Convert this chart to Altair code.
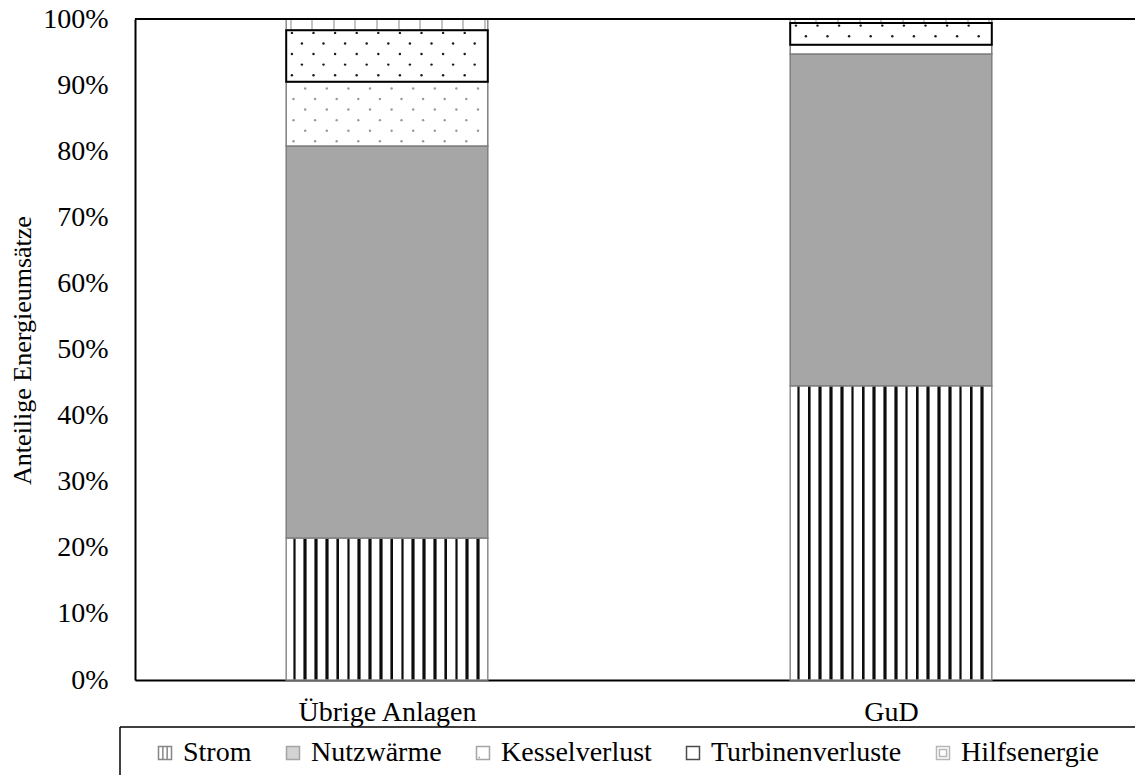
import altair as alt
import numpy as np
import pandas as pd

# Energy shares (%) per plant type, stacked bottom to top
anlagen = ["Übrige Anlagen", "GuD"]
kategorien = ["Strom", "Nutzwärme", "Kesselverlust", "Turbinenverluste", "Hilfsenergie"]
strom = [21.5, 44.5]
nutzwaerme = [59.3, 50.2]
kesselverlust = [9.7, 1.4]
turbinenverluste = [7.8, 3.3]
hilfsenergie = [1.7, 0.6]

FONT = "Liberation Serif"
STEP_PX = 504.0          # pixel width of one category slot
BAR_HALF = 0.2           # half bar width in slot units
BAR_PX = 2 * BAR_HALF * STEP_PX

serien = [strom, nutzwaerme, kesselverlust, turbinenverluste, hilfsenergie]
rows = []
for i, anlage in enumerate(anlagen):
    lo = 0.0
    for kat, werte in zip(kategorien, serien):
        hi = lo + werte[i]
        rows.append({"Anlage": anlage, "pos": i, "Kategorie": kat,
                     "x0": i - BAR_HALF, "x1": i + BAR_HALF, "lo": lo, "hi": hi})
        lo = hi
seg = pd.DataFrame(rows)


def stripe_fill(first, period, core, halo, dark, halo_col, light="#ffffff"):
    """Vertical hatch as a hard-stop linear gradient across the bar width."""
    stops = [alt.GradientStop(offset=0, color=light)]
    c = first
    while c < BAR_PX - 1:
        a = (c - core / 2 - halo) / BAR_PX
        b = (c - core / 2) / BAR_PX
        e = (c + core / 2) / BAR_PX
        d = (c + core / 2 + halo) / BAR_PX
        a, b, e, d = [min(max(v, 0), 1) for v in (a, b, e, d)]
        stops += [alt.GradientStop(offset=a, color=light),
                  alt.GradientStop(offset=a, color=halo_col),
                  alt.GradientStop(offset=b, color=halo_col),
                  alt.GradientStop(offset=b, color=dark),
                  alt.GradientStop(offset=e, color=dark),
                  alt.GradientStop(offset=e, color=halo_col),
                  alt.GradientStop(offset=d, color=halo_col),
                  alt.GradientStop(offset=d, color=light)]
        c += period
    stops.append(alt.GradientStop(offset=1, color=light))
    return alt.LinearGradient(gradient="linear", stops=stops, x1=0, x2=1, y1=0, y2=0)


def dot_grid(kat, top_inset, color, offs_a, offs_b):
    """Staggered dot texture inside the given segment type."""
    out = []
    for _, r in seg[seg["Kategorie"] == kat].iterrows():
        if r["hi"] - r["lo"] < 2:
            continue
        y = r["hi"] - top_inset
        k = 0
        while y >= r["lo"] + 0.5:
            start = offs_a if k % 2 == 0 else offs_b
            px = start
            while px < BAR_PX - 2:
                out.append({"xd": r["x0"] + px / STEP_PX, "yd": y, "c": color})
                px += 21.6
            y -= 1.6
            k += 1
    return out


xscale = alt.Scale(domain=[-0.5, 1.5], range=[0, 2 * STEP_PX], nice=False, zero=False)
yscale = alt.Scale(domain=[0, 100], nice=False)

xaxis = alt.Axis(values=[0, 1], title=None, ticks=False, grid=False,
                 labelExpr=f"datum.value == 0 ? '{anlagen[0]}' : '{anlagen[1]}'",
                 labelFont=FONT, labelFontSize=28, labelColor="black",
                 labelBaseline="alphabetic", labelPadding=40,
                 domainColor="black", domainWidth=2, labelFlush=False, labelOverlap=False)
yaxis = alt.Axis(values=list(range(0, 101, 10)), title="Anteilige Energieumsätze",
                 ticks=False, tickSize=0, grid=False, labelExpr="datum.value + '%'",
                 labelFont=FONT, labelFontSize=28, labelColor="black", labelPadding=27,
                 domainColor="black", domainWidth=2,
                 titleFont=FONT, titleFontSize=26, titleFontWeight="normal", titleColor="black",
                 titleX=-113, titleY=331, titleAngle=-90, titleBaseline="middle", titleAlign="center",
                 labelFlush=False)

base = alt.Chart(seg)

# legend carrier, hidden beneath the Strom bar
shape_paths = [
    "M-1,-1H1V1H-1Z M-0.33,-1V1 M0.33,-1V1",
    "M-1,-1H1V1H-1Z",
    "M-1,-1H1V1H-1Z M-0.7,0.7H-0.45",
    "M-1,-1H1V1H-1Z",
    "M-1,-1H1V1H-1Z M-0.55,-0.55H0.55V0.55H-0.55Z",
]
fill_cols = ["#ffffff", "#a6a6a6", "#ffffff", "#ffffff", "#ffffff"]
stroke_cols = ["#555555", "#7f7f7f", "#7f7f7f", "#000000", "#9a9a9a"]
legend = alt.Legend(title=None, orient="none", direction="horizontal", columns=5,
                    legendX=16, legendY=720, padding=0, columnPadding=27,
                    labelFont=FONT, labelFontSize=28, labelColor="black", labelOffset=4,
                    symbolSize=169, symbolStrokeWidth=1.5, labelLimit=400)
carrier_df = pd.DataFrame({"Kategorie": kategorien, "pos": [0] * 5, "yc": [8] * 5})
carrier = alt.Chart(carrier_df).mark_point(filled=True, size=1).encode(
    x=alt.X("pos:Q", scale=xscale, axis=xaxis),
    y=alt.Y("yc:Q", scale=yscale, axis=yaxis),
    shape=alt.Shape("Kategorie:N", sort=kategorien,
                    scale=alt.Scale(domain=kategorien, range=shape_paths), legend=legend),
    fill=alt.Fill("Kategorie:N", sort=kategorien,
                  scale=alt.Scale(domain=kategorien, range=fill_cols), legend=legend),
    stroke=alt.Stroke("Kategorie:N", sort=kategorien,
                      scale=alt.Scale(domain=kategorien, range=stroke_cols), legend=legend),
)


def bars(kat, **mark):
    return base.transform_filter(alt.datum.Kategorie == kat).mark_bar(**mark).encode(
        x=alt.X("x0:Q", scale=xscale, axis=xaxis),
        x2="x1:Q",
        y=alt.Y("lo:Q", scale=yscale, axis=yaxis),
        y2="hi:Q",
    )


strom_bars = bars("Strom", fill=stripe_fill(8.3, 10.8, 1.8, 0.9, "#0d0d0d", "#6e6e6e"),
                  stroke="#8c8c8c", strokeWidth=1.5)
waerme_bars = bars("Nutzwärme", fill="#a6a6a6", stroke="#7f7f7f", strokeWidth=1.5)
kessel_bars = bars("Kesselverlust", fill="#ffffff", stroke="#7f7f7f", strokeWidth=1.5)
hilfs_bars = bars("Hilfsenergie", fill=stripe_fill(4.5, 21.6, 2.0, 0.0, "#c4c4c4", "#c4c4c4"),
                  stroke="#8c8c8c", strokeWidth=1.5)
turbine_bars = bars("Turbinenverluste", fill="#ffffff", stroke="#000000", strokeWidth=2)

dots_df = pd.DataFrame(dot_grid("Kesselverlust", 1.0, "#9a9a9a", 19.0, 7.3)
                       + dot_grid("Turbinenverluste", 0.4, "#1a1a1a", 5.7, 15.7))
dots = alt.Chart(dots_df).mark_circle(size=6, opacity=1).encode(
    x=alt.X("xd:Q", scale=xscale, axis=xaxis),
    y=alt.Y("yd:Q", scale=yscale, axis=yaxis),
    color=alt.Color("c:N", scale=None, legend=None),
)

# plot frame top edge and the legend box edges (pixel offsets from the plot's top-left)
frame_df = pd.DataFrame({"k": [0]})
frame = alt.Chart(frame_df)
top_line = frame.mark_rule(color="black", strokeWidth=2).encode(
    x=alt.value(0), x2=alt.value(1000), y=alt.value(0))
box_top = frame.mark_rule(color="black", strokeWidth=1.5).encode(
    x=alt.value(-15), x2=alt.value(1000), y=alt.value(708))
box_left = frame.mark_rule(color="black", strokeWidth=1.5).encode(
    x=alt.value(-15), y=alt.value(708), y2=alt.value(800))

chart = alt.layer(
    carrier, strom_bars, waerme_bars, kessel_bars, hilfs_bars, turbine_bars, dots,
    top_line, box_top, box_left,
).resolve_scale(
    shape="shared", fill="shared", stroke="shared",
).properties(
    width=1000, height=661,
    autosize=alt.AutoSizeParams(type="none"),
    padding={"left": 135, "top": 19, "right": 0, "bottom": 95},
    background="white",
).configure_view(stroke=None).configure(font=FONT)

chart.save("out.html", embed_options={"renderer": "svg", "actions": False})
